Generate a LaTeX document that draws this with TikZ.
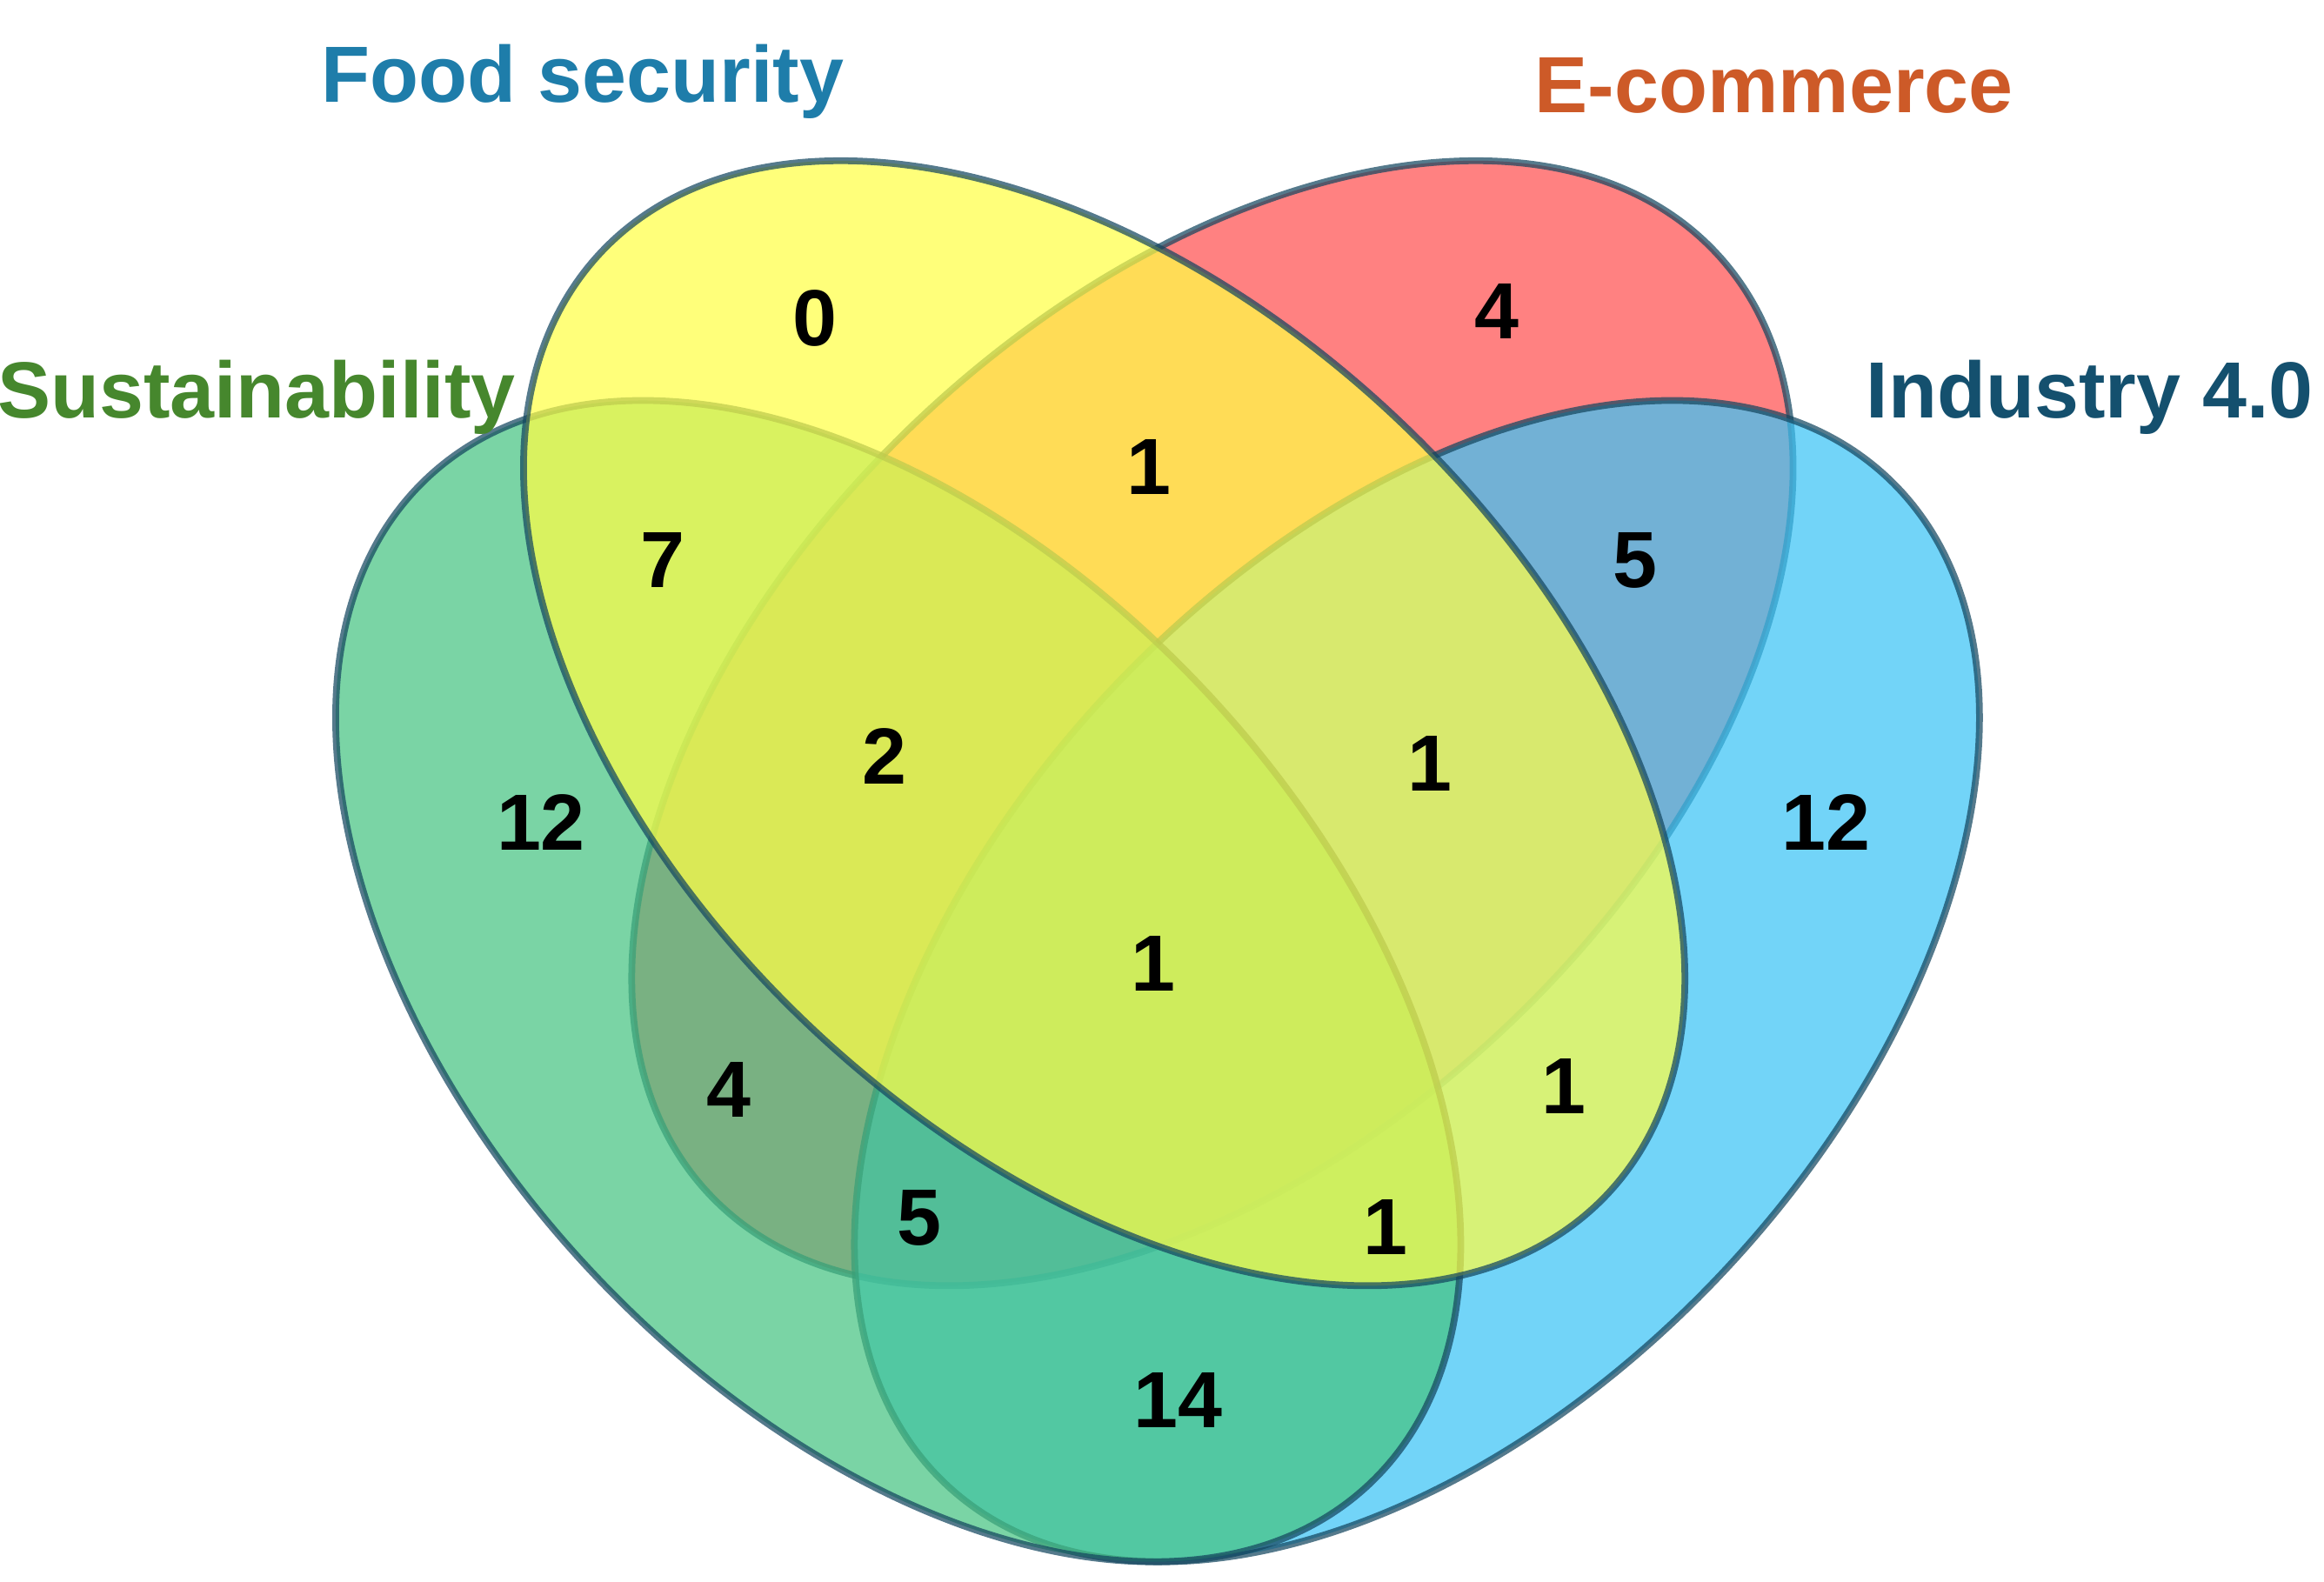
\documentclass[tikz,border=0pt]{standalone}
\usepackage{fontspec}
\setmainfont{Liberation Sans}
\definecolor{fsyellow}{RGB}{255,255,70}
\definecolor{ecred}{RGB}{255,80,80}
\definecolor{sugreen}{RGB}{70,195,130}
\definecolor{inblue}{RGB}{60,195,245}
\definecolor{rim}{RGB}{20,70,95}
\definecolor{fstext}{RGB}{30,125,170}
\definecolor{ectext}{RGB}{205,90,40}
\definecolor{sutext}{RGB}{70,135,45}
\definecolor{intext}{RGB}{20,80,110}
\begin{document}
\begin{tikzpicture}[x=0.017cm,y=0.017cm,
    set/.style={draw=rim,line width=2.2pt,opacity=0.72},
    count/.style={font=\bfseries\fontsize{26}{30}\selectfont,text=black},
    title/.style={font=\bfseries\fontsize{26}{30}\selectfont}]
   \useasboundingbox (0,0) rectangle (1568,1067);

    % Sets
    \draw [set,fill=ecred] (818,579) ellipse [x radius=465,y radius=285,rotate=43];
    \draw [set,fill=inblue] (956,405) ellipse [x radius=465,y radius=285,rotate=47];
    \draw [set,fill=sugreen] (606,405) ellipse [x radius=465,y radius=285,rotate=-47];
    \draw [set,fill=fsyellow] (745,579) ellipse [x radius=465,y radius=285,rotate=-43];

    % Set titles
    \node [title,text=fstext] (fs label) at (393,1012) {Food security};
    \node [title,text=ectext] (ec label) at (1197,1009) {E-commerce};
    \node [title,text=sutext] (su label) at (173,799) {Sustainability};
    \node [title,text=intext] (in label) at (1410,799) {Industry 4.0};

    % Counts
    \node [count] (n fs) at (550,852) {0};
    \node [count] (n ec) at (1010,857) {4};
    \node [count] (n fsec) at (775,752) {1};
    \node [count] (n fssu) at (447,689) {7};
    \node [count] (n ecin) at (1103,689) {5};
    \node [count] (n fsecsu) at (597,557) {2};
    \node [count] (n fsecin) at (965,552) {1};
    \node [count] (n su) at (365,512) {12};
    \node [count] (n in) at (1232,512) {12};
    \node [count] (n all) at (778,417) {1};
    \node [count] (n susuin) at (492,332) {4};
    \node [count] (n fsin) at (1055,334) {1};
    \node [count] (n fssuin) at (620,245) {5};
    \node [count] (n ecsuin) at (935,239) {1};
    \node [count] (n suin) at (795,122) {14};
\end{tikzpicture}
\end{document}
